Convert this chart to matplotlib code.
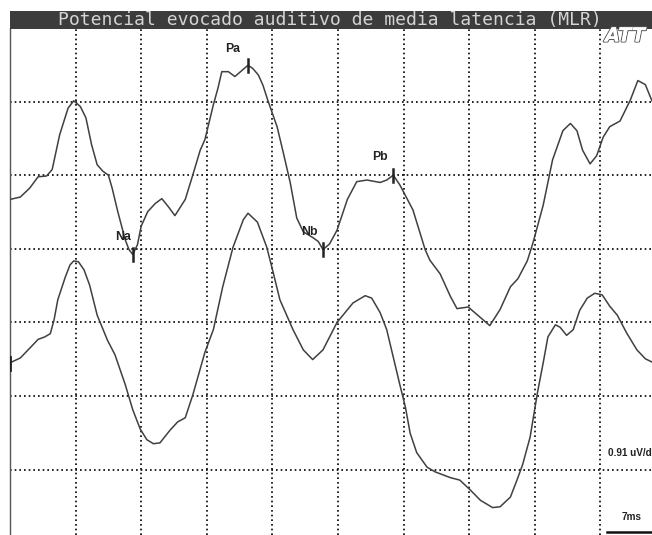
import numpy as np
import matplotlib.pyplot as plt
from matplotlib.patches import Rectangle
import matplotlib.patheffects as pe

title = "Potencial evocado auditivo de media latencia (MLR)"

# upper trace (ms, uV relative to its own baseline)
t_up = [0.0, 1.1, 2.1, 3.0, 3.9, 4.5, 5.3, 6.2, 6.8, 7.5, 8.1, 8.7, 9.3, 9.9,
        10.5, 10.9, 11.5, 12.3, 12.7, 13.1, 13.6, 14.0, 14.7, 15.5, 16.2, 16.9,
        17.6, 18.7, 19.5, 20.3, 20.8, 21.7, 22.2, 22.6, 23.3, 24.0, 24.8, 25.4,
        25.9, 26.5, 27.0, 27.5, 28.5, 29.1, 29.9, 30.6, 31.3, 32.3, 32.9, 33.4,
        34.1, 34.9, 36.0, 37.0, 38.1, 39.5, 40.2, 40.9, 41.6, 43.0, 44.3, 44.8,
        45.9, 47.0, 47.7, 48.9, 50.2, 51.2, 52.3, 53.4, 54.2, 55.2, 55.8, 56.9,
        57.9, 59.0, 59.8, 60.5, 61.1, 61.9, 62.6, 63.3, 64.0, 65.1, 66.2, 67.0,
        67.8, 68.5]
v_up = [0.61, 0.64, 0.75, 0.89, 0.90, 0.98, 1.41, 1.74, 1.83, 1.76, 1.62, 1.29,
        1.04, 0.96, 0.91, 0.75, 0.46, 0.11, -0.01, -0.07, 0.05, 0.28, 0.46, 0.56,
        0.62, 0.52, 0.41, 0.61, 0.91, 1.22, 1.35, 1.78, 1.99, 2.19, 2.19, 2.13,
        2.21, 2.27, 2.23, 2.15, 2.02, 1.84, 1.51, 1.22, 0.82, 0.38, 0.21, 0.14,
        0.09, -0.01, 0.06, 0.23, 0.61, 0.83, 0.85, 0.82, 0.85, 0.91, 0.79, 0.48,
        -0.01, -0.14, -0.31, -0.59, -0.74, -0.72, -0.85, -0.95, -0.75, -0.47,
        -0.37, -0.15, 0.07, 0.54, 1.10, 1.46, 1.55, 1.46, 1.22, 1.05, 1.15, 1.38,
        1.51, 1.58, 1.84, 2.08, 2.03, 1.83]

# lower trace
t_lo = [0.0, 1.1, 2.1, 3.0, 3.7, 4.3, 4.7, 5.1, 5.9, 6.4, 6.8, 7.3, 7.9, 8.5,
        9.3, 10.4, 11.2, 12.3, 13.1, 13.9, 14.6, 15.3, 16.0, 17.1, 17.9, 18.7,
        19.5, 20.8, 21.7, 22.7, 23.8, 24.9, 25.4, 26.4, 27.4, 28.1, 28.8, 30.2,
        31.3, 32.3, 33.4, 34.9, 36.6, 37.9, 38.6, 39.5, 40.2, 40.9, 41.6, 42.2,
        42.7, 43.4, 44.5, 45.4, 47.0, 48.0, 49.1, 50.2, 51.5, 52.3, 53.4, 54.1,
        54.7, 55.5, 56.3, 56.9, 57.4, 58.2, 58.7, 59.4, 60.1, 60.8, 61.6, 62.4,
        63.2, 64.0, 64.8, 65.8, 66.9, 67.8, 68.5]
v_lo = [0.41, 0.47, 0.59, 0.70, 0.73, 0.77, 0.94, 1.19, 1.47, 1.62, 1.67, 1.66,
        1.56, 1.37, 1.00, 0.69, 0.51, 0.14, -0.17, -0.41, -0.54, -0.59, -0.58,
        -0.42, -0.32, -0.27, 0.01, 0.54, 0.82, 1.35, 1.84, 2.18, 2.26, 2.15, 1.84,
        1.52, 1.19, 0.82, 0.57, 0.45, 0.57, 0.91, 1.15, 1.24, 1.21, 1.03, 0.82,
        0.48, 0.14, -0.14, -0.46, -0.70, -0.88, -0.94, -1.01, -1.04, -1.16, -1.29,
        -1.38, -1.37, -1.25, -1.04, -0.85, -0.51, 0.05, 0.41, 0.73, 0.88, 0.85,
        0.75, 0.82, 1.06, 1.21, 1.27, 1.25, 1.11, 1.00, 0.78, 0.57, 0.46, 0.42]

peaks = ["Na", "Pa", "Nb", "Pb"]
peak_t = [13.1, 25.4, 33.4, 40.9]
label_xy = [(12.1, 0.14), (23.8, 2.47), (32.0, 0.21), (39.5, 1.13)]

div_ms = 7
div_uv = 0.91
offset = 2 * div_uv

fig = plt.figure(figsize=(6.52, 5.35), dpi=100)
ax = fig.add_axes([10 / 652, 0, 642 / 652, 507 / 535])
ax.set_xlim(0, 68.51)
ax.set_ylim(-1.719, 4.55)

ax.set_xticks(np.arange(div_ms, 68.5, div_ms))
ax.set_yticks(np.arange(-1, 5) * div_uv)
ax.grid(True, color='black', linestyle=(0, (1, 1.8)), linewidth=1.2)
ax.tick_params(length=0, labelbottom=False, labelleft=False)
for s in ['top', 'right', 'bottom']:
    ax.spines[s].set_visible(False)
ax.spines['left'].set_color('#555555')
ax.spines['left'].set_linewidth(1.0)

tu = np.array(t_up)
vu = np.array(v_up) + offset
ax.plot(tu, vu, color='#404040', lw=1.1, zorder=3)
ax.plot(t_lo, v_lo, color='#404040', lw=1.1, zorder=3)
ax.plot([0.05, 0.05], [0.32, 0.48], color='#222222', lw=2, zorder=4)

for name, tp, (lx, ly) in zip(peaks, peak_t, label_xy):
    yp = np.interp(tp, tu, vu)
    ax.plot([tp, tp], [yp - 0.08, yp + 0.08], color='#222222', lw=1.8, zorder=4)
    ax.text(lx, ly + offset, name, fontsize=8.8, fontweight='bold',
            family='Liberation Sans', color='#222222', ha='center', va='center', zorder=5)

# scale annotations at the right edge (cut by the frame as in the printout)
ax.text(63.8, -0.70, "0.91 uV/div", fontsize=7.2, fontweight='bold',
        family='Liberation Sans', color='#222222', va='center', clip_on=False)
ax.text(65.3, -1.50, "7ms", fontsize=7.2, fontweight='bold',
        family='Liberation Sans', color='#222222', va='center')
ax.plot([63.7, 63.7 + div_ms], [-1.68, -1.68], color='#111111', lw=1.8, clip_on=False)

# title bar
fig.patches.append(Rectangle((10 / 652, 1 - 29 / 535), 642 / 652, 18 / 535,
                             transform=fig.transFigure, facecolor='#3c3c3c',
                             edgecolor='none'))
fig.text(58 / 652, 1 - 20 / 535, title, family='DejaVu Sans Mono', fontsize=13,
         color='#d4d4d4', va='center')

logo = fig.text(605 / 652, 1 - 36 / 535, "ATT", fontsize=14, fontweight='bold',
                fontstyle='italic', family='DejaVu Sans', color='white', va='center')
logo.set_path_effects([pe.withStroke(linewidth=1.5, foreground='#555555'), pe.Normal()])

fig.savefig('out.png', dpi=100)
